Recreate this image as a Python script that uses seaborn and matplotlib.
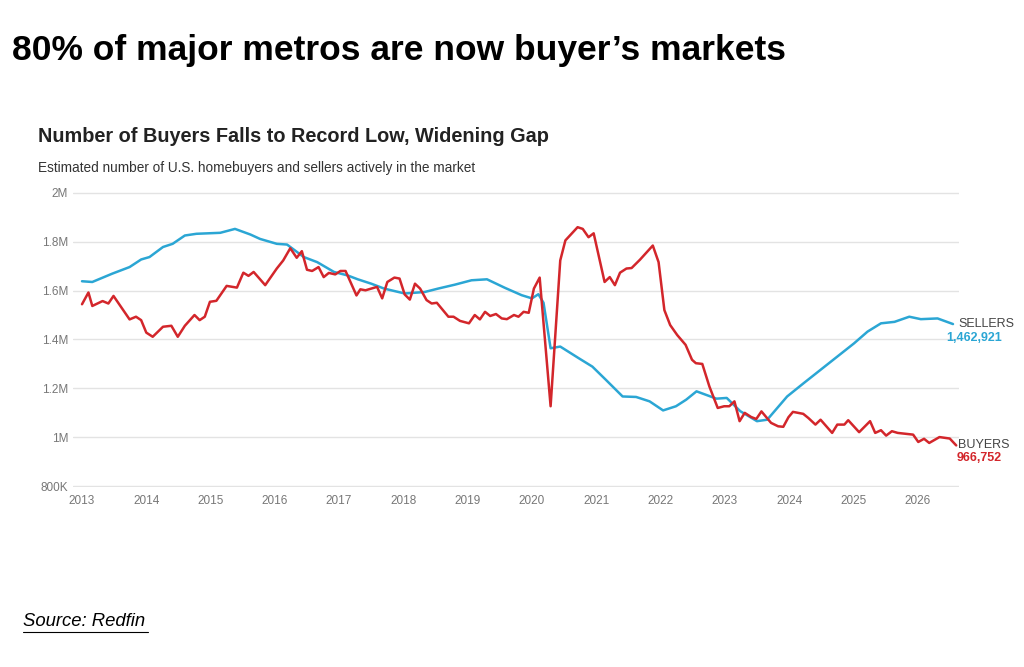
import pandas as pd
import matplotlib.pyplot as plt
import seaborn as sns

# Sellers (blue), decimal year vs millions
sellers_t = [2013.0, 2013.16, 2013.47, 2013.74, 2013.92, 2014.05, 2014.26, 2014.41, 2014.6, 2014.78,
             2015.15, 2015.38, 2015.62, 2015.77, 2016.03, 2016.19, 2016.45, 2016.66, 2016.92, 2017.13,
             2017.29, 2017.5, 2017.7, 2018.02, 2018.33, 2018.54, 2018.8, 2019.06, 2019.3, 2019.58,
             2019.84, 2020.0, 2020.1, 2020.18, 2020.29, 2020.44, 2020.73, 2020.94, 2021.15, 2021.41,
             2021.62, 2021.83, 2022.04, 2022.24, 2022.4, 2022.56, 2022.87, 2023.03, 2023.24, 2023.5,
             2023.66, 2023.97, 2024.23, 2024.49, 2024.75, 2025.01, 2025.22, 2025.43, 2025.64, 2025.87,
             2026.05, 2026.31, 2026.55]
sellers_v = [1.638, 1.635, 1.669, 1.696, 1.727, 1.737, 1.778, 1.791, 1.825, 1.832,
             1.836, 1.852, 1.829, 1.811, 1.791, 1.788, 1.737, 1.716, 1.676, 1.662,
             1.646, 1.628, 1.608, 1.588, 1.594, 1.608, 1.624, 1.642, 1.646, 1.611,
             1.581, 1.568, 1.585, 1.55, 1.364, 1.371, 1.323, 1.289, 1.235, 1.167,
             1.165, 1.147, 1.11, 1.127, 1.154, 1.188, 1.158, 1.161, 1.107, 1.066,
             1.072, 1.167, 1.222, 1.276, 1.33, 1.384, 1.432, 1.466, 1.472, 1.493,
             1.483, 1.486, 1.463]

# Buyers (red)
buyers_t = [2013.0, 2013.1, 2013.16, 2013.32, 2013.41, 2013.49, 2013.74, 2013.84, 2013.92, 2014.0,
            2014.1, 2014.26, 2014.39, 2014.49, 2014.6, 2014.75, 2014.83, 2014.91, 2014.99, 2015.09,
            2015.25, 2015.41, 2015.51, 2015.59, 2015.67, 2015.85, 2016.03, 2016.13, 2016.24, 2016.34,
            2016.42, 2016.5, 2016.58, 2016.68, 2016.76, 2016.84, 2016.94, 2017.02, 2017.1, 2017.27,
            2017.33, 2017.41, 2017.59, 2017.67, 2017.75, 2017.86, 2017.94, 2018.02, 2018.1, 2018.18,
            2018.26, 2018.36, 2018.44, 2018.52, 2018.7, 2018.78, 2018.88, 2019.02, 2019.11, 2019.19,
            2019.27, 2019.35, 2019.44, 2019.53, 2019.61, 2019.72, 2019.79, 2019.87, 2019.95, 2020.03,
            2020.12, 2020.29, 2020.44, 2020.52, 2020.71, 2020.79, 2020.88, 2020.96, 2021.13, 2021.21,
            2021.29, 2021.37, 2021.47, 2021.55, 2021.68, 2021.88, 2021.97, 2022.06, 2022.15, 2022.26,
            2022.39, 2022.49, 2022.55, 2022.65, 2022.76, 2022.89, 2022.99, 2023.07, 2023.15, 2023.23,
            2023.31, 2023.41, 2023.49, 2023.57, 2023.72, 2023.83, 2023.91, 2023.99, 2024.06, 2024.22,
            2024.3, 2024.41, 2024.49, 2024.67, 2024.75, 2024.86, 2024.92, 2025.09, 2025.26, 2025.34,
            2025.43, 2025.51, 2025.6, 2025.69, 2025.93, 2026.01, 2026.1, 2026.18, 2026.34, 2026.5,
            2026.6]
buyers_v = [1.544, 1.592, 1.537, 1.557, 1.547, 1.578, 1.482, 1.493, 1.479, 1.428,
            1.411, 1.452, 1.456, 1.411, 1.456, 1.5, 1.479, 1.493, 1.554, 1.558,
            1.619, 1.612, 1.673, 1.66, 1.676, 1.622, 1.69, 1.723, 1.773, 1.734,
            1.761, 1.685, 1.68, 1.696, 1.655, 1.672, 1.666, 1.68, 1.68, 1.58,
            1.605, 1.601, 1.615, 1.568, 1.635, 1.653, 1.649, 1.584, 1.563, 1.628,
            1.608, 1.561, 1.547, 1.55, 1.493, 1.493, 1.476, 1.466, 1.5, 1.482,
            1.513, 1.496, 1.504, 1.486, 1.483, 1.5, 1.493, 1.513, 1.509, 1.608,
            1.653, 1.127, 1.723, 1.805, 1.859, 1.852, 1.818, 1.834, 1.635, 1.655,
            1.622, 1.673, 1.69, 1.692, 1.726, 1.784, 1.716, 1.52, 1.459, 1.418,
            1.378, 1.317, 1.303, 1.3, 1.208, 1.12, 1.127, 1.127, 1.147, 1.066,
            1.1, 1.083, 1.075, 1.106, 1.059, 1.045, 1.043, 1.082, 1.104, 1.096,
            1.079, 1.052, 1.072, 1.018, 1.052, 1.052, 1.07, 1.021, 1.066, 1.018,
            1.029, 1.007, 1.025, 1.018, 1.011, 0.981, 0.994, 0.977, 1.001, 0.995,
            0.967]

years = list(range(2013, 2027))
y_ticks = [0.8, 1.0, 1.2, 1.4, 1.6, 1.8, 2.0]
y_labels = ["800K", "1M", "1.2M", "1.4M", "1.6M", "1.8M", "2M"]

BLUE = "#2ba6d4"
RED = "#d3262b"

df = pd.concat([
    pd.DataFrame({"t": sellers_t, "v": sellers_v, "series": "Sellers"}),
    pd.DataFrame({"t": buyers_t, "v": buyers_v, "series": "Buyers"}),
])

sns.set_theme(style="white")
plt.rcParams["font.family"] = ["Liberation Sans", "DejaVu Sans"]

fig = plt.figure(figsize=(10.24, 6.67), dpi=100)
ax = fig.add_axes([0.0713, 0.2699, 0.865, 0.4423])
sns.lineplot(data=df, x="t", y="v", hue="series", palette={"Sellers": BLUE, "Buyers": RED},
             linewidth=1.8, legend=False, ax=ax, sort=False)

ax.set_xlim(2012.86, 2026.64)
ax.set_ylim(0.797, 2.003)
ax.set_xticks(years)
ax.set_xticklabels([str(y) for y in years])
ax.set_yticks(y_ticks)
ax.set_yticklabels(y_labels)
ax.tick_params(axis="both", length=0, labelsize=8.5, labelcolor="#777777")
ax.tick_params(axis="x", pad=6)
ax.grid(axis="y", color="#e3e3e3", linewidth=1)
for s in ax.spines.values():
    s.set_visible(False)
ax.set_xlabel("")
ax.set_ylabel("")

fig.text(0.012, 0.925, "80% of major metros are now buyer\u2019s markets",
         fontsize=25.5, fontweight="bold", color="black", va="center")
fig.text(0.037, 0.795, "Number of Buyers Falls to Record Low, Widening Gap",
         fontsize=14.3, fontweight="bold", color="#222222", va="center")
fig.text(0.037, 0.748, "Estimated number of U.S. homebuyers and sellers actively in the market",
         fontsize=9.8, color="#333333", va="center")

fig.text(0.936, 0.514, "SELLERS", fontsize=9, color="#444444", va="center")
fig.text(0.9785, 0.494, "1,462,921", fontsize=9, fontweight="bold", color=BLUE,
         va="center", ha="right")
fig.text(0.936, 0.333, "BUYERS", fontsize=9, color="#444444", va="center")
fig.text(0.9785, 0.313, "966,752", fontsize=9, fontweight="bold", color=RED,
         va="center", ha="right")

fig.text(0.022, 0.068, "Source: Redfin", fontsize=13.3, fontstyle="italic", color="black",
         va="center")
fig.add_artist(plt.Line2D([0.022, 0.145], [0.052, 0.052], color="black", linewidth=0.8))

fig.savefig("out.png", dpi=100, facecolor="white")
